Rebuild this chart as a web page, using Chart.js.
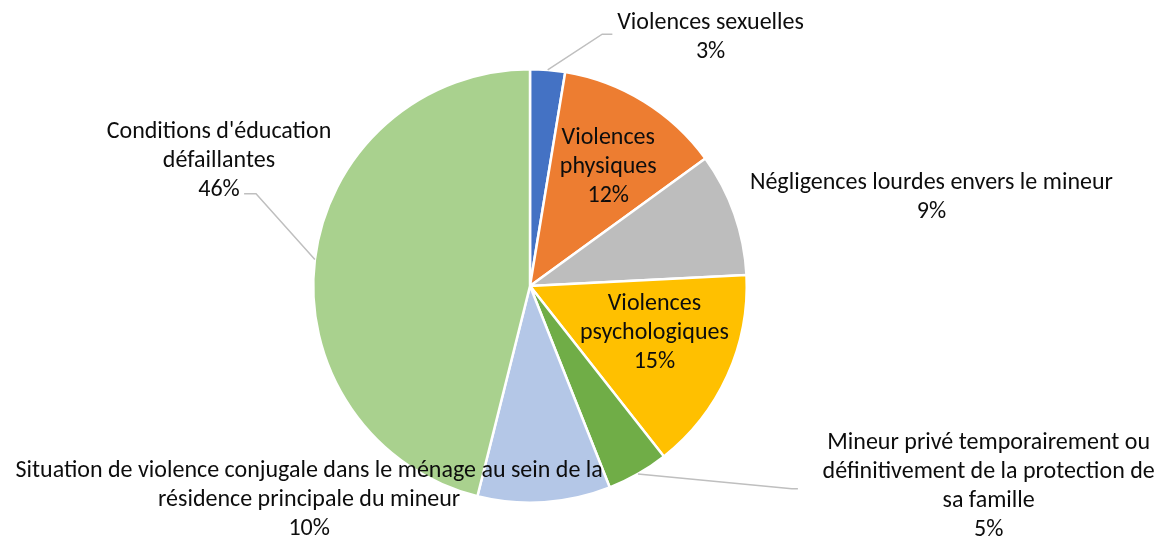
<!DOCTYPE html>
<html>
<head>
<meta charset="utf-8">
<script src="https://cdn.jsdelivr.net/npm/chart.js@4/dist/chart.umd.min.js"></script>
<style>
  html, body { margin: 0; padding: 0; background: #ffffff; }
  #wrap { width: 1156px; height: 539px; position: relative; }
</style>
</head>
<body>
<div id="wrap"><canvas id="c" width="1156" height="539"></canvas></div>
<script>
// ---- data ----
const categories = [
  "Violences sexuelles",
  "Violences physiques",
  "Négligences lourdes envers le mineur",
  "Violences psychologiques",
  "Mineur privé temporairement ou définitivement de la protection de sa famille",
  "Situation de violence conjugale dans le ménage au sein de la résidence principale du mineur",
  "Conditions d'éducation défaillantes"
];
const shares = [2.6, 12.4, 9.2, 15.2, 4.6, 9.9, 46.1];
const percentLabels = ["3%", "12%", "9%", "15%", "5%", "10%", "46%"];
const labelLines = [
  ["Violences sexuelles"],
  ["Violences", "physiques"],
  ["Négligences lourdes envers le mineur"],
  ["Violences", "psychologiques"],
  ["Mineur privé temporairement ou", "définitivement de la protection de", "sa famille"],
  ["Situation de violence conjugale dans le ménage au sein de la", "résidence principale du mineur"],
  ["Conditions d'éducation", "défaillantes"]
];

// ---- styles / layout ----
const colors = ["#4472C4", "#ED7D31", "#BDBDBD", "#FFC000", "#70AD47", "#B4C7E7", "#A9D18E"];
// label block centres, relative to pie centre in units of radius
const labelPos = [
  [0.833, -1.145], [0.361, -0.548], [1.852, -0.407], [0.574, 0.218],
  [2.116, 0.926], [-1.019, 0.986], [-1.435, -0.578]
];
// leader line points (elbow, end) relative to pie centre in units of radius; null = none
const leaders = [
  [[0.333, -1.162], [0.380, -1.162]],
  null, null, null,
  [[1.208, 0.935], [1.236, 0.935]],
  null,
  [[-1.264, -0.426], [-1.319, -0.426]]
];
const FONT = '24px Calibri, Carlito, Lato, sans-serif';
const LINE_H = 29;

const labelPlugin = {
  id: 'pieLabels',
  afterDatasetsDraw(chart) {
    const ctx = chart.ctx;
    const meta = chart.getDatasetMeta(0);
    ctx.save();
    meta.data.forEach((arc, i) => {
      const cx = arc.x, cy = arc.y, R = arc.outerRadius;
      if (leaders[i]) {
        const mid = (arc.startAngle + arc.endAngle) / 2;
        const px = cx + Math.cos(mid) * R;
        const py = cy + Math.sin(mid) * R;
        ctx.beginPath();
        ctx.strokeStyle = '#BFBFBF';
        ctx.lineWidth = 1.5;
        ctx.moveTo(px, py);
        leaders[i].forEach(p => ctx.lineTo(cx + p[0] * R, cy + p[1] * R));
        ctx.stroke();
      }
      const lines = labelLines[i].concat([percentLabels[i]]);
      const lx = cx + labelPos[i][0] * R;
      const ly = cy + labelPos[i][1] * R;
      ctx.font = FONT;
      ctx.fillStyle = '#0D0D0D';
      ctx.textAlign = 'center';
      ctx.textBaseline = 'middle';
      const top = ly - (lines.length - 1) * LINE_H / 2;
      lines.forEach((t, k) => ctx.fillText(t, lx, top + k * LINE_H));
    });
    ctx.restore();
  }
};

new Chart(document.getElementById('c'), {
  type: 'pie',
  data: {
    labels: categories,
    datasets: [{
      data: shares,
      backgroundColor: colors,
      borderColor: '#ffffff',
      borderWidth: 2.5
    }]
  },
  options: {
    responsive: false,
    animation: false,
    layout: { padding: { top: 68, bottom: 35, left: 312, right: 408 } },
    plugins: { legend: { display: false }, tooltip: { enabled: false } }
  },
  plugins: [labelPlugin]
});
</script>
</body>
</html>
